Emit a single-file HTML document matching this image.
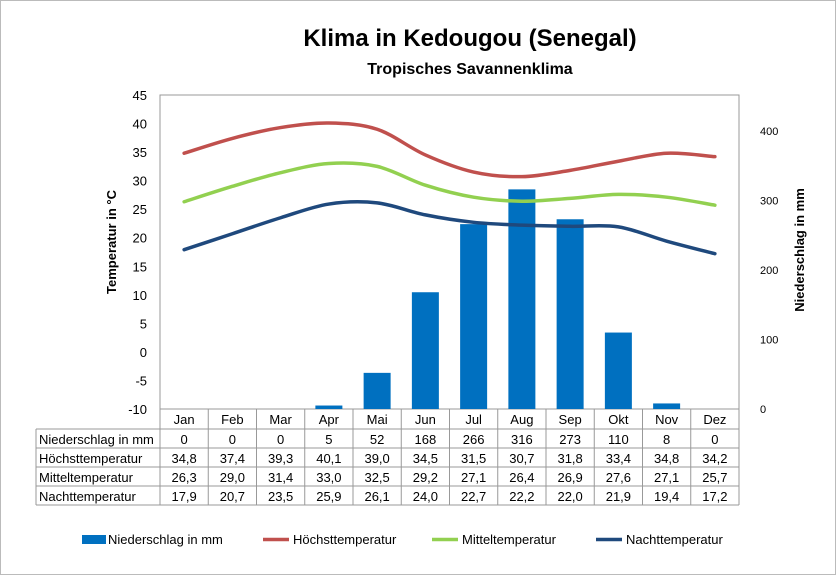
<!DOCTYPE html>
<html><head><meta charset="utf-8"><style>
body{margin:0;background:#fff;font-family:"Liberation Sans",Arial,sans-serif}
svg text{font-family:"Liberation Sans",Arial,sans-serif}
</style></head><body>
<svg id="c" width="836" height="575" viewBox="0 0 836 575">
<rect x="0.5" y="0.5" width="835" height="574" fill="#fff" stroke="#bbb"/>
<text x="470" y="46" text-anchor="middle" font-size="24" font-weight="bold">Klima in Kedougou (Senegal)</text>
<text x="470" y="74" text-anchor="middle" font-size="16" font-weight="bold">Tropisches Savannenklima</text>
<text transform="translate(116,242) rotate(-90)" text-anchor="middle" font-size="13" font-weight="bold">Temperatur in °C</text>
<text transform="translate(804,250) rotate(-90)" text-anchor="middle" font-size="13" font-weight="bold">Niederschlag in mm</text>
<g id="g"></g>
</svg>
<script>
const months=["Jan","Feb","Mar","Apr","Mai","Jun","Jul","Aug","Sep","Okt","Nov","Dez"];
const rain=[0,0,0,5,52,168,266,316,273,110,8,0];
const tmax=[34.8,37.4,39.3,40.1,39.0,34.5,31.5,30.7,31.8,33.4,34.8,34.2];
const tmean=[26.3,29.0,31.4,33.0,32.5,29.2,27.1,26.4,26.9,27.6,27.1,25.7];
const tmin=[17.9,20.7,23.5,25.9,26.1,24.0,22.7,22.2,22.0,21.9,19.4,17.2];
const leftTicks=[45,40,35,30,25,20,15,10,5,0,-5,-10];
const rightTicks=[0,100,200,300,400];
const rowLabels=["Niederschlag in mm","Höchsttemperatur","Mitteltemperatur","Nachttemperatur"];
const NS="http://www.w3.org/2000/svg";
const g=document.getElementById('g');
const L=160,R=739,T=95,B=409,cw=(R-L)/12;
const yT=v=>B-(v+10)*(B-T)/55;
const yR=v=>B-v*(409-131)/400;
const xC=i=>L+cw*(i+0.5);
function el(t,a,txt){const e=document.createElementNS(NS,t);for(const k in a)e.setAttribute(k,a[k]);if(txt!==undefined)e.textContent=txt;g.appendChild(e);return e;}
let e=el('rect',{x:L,y:T,width:R-L,height:B-T,fill:'none',stroke:'#999'});


leftTicks.forEach(v=>{let t=el('text',{x:147,y:yT(v)+5,'text-anchor':'end','font-size':13},v);

});
rightTicks.forEach(v=>{let t=el('text',{x:760,y:yR(v)+4,'text-anchor':'start','font-size':11},v);

});
rain.forEach((v,i)=>{let r=el('rect',{x:xC(i)-13.5,y:yR(v),width:27,height:B-yR(v),fill:'#0070c0'});

});
function smooth(vals,color,name){const p=vals.map((v,i)=>[xC(i),yT(v)]);let d='M'+p[0][0]+','+p[0][1];
for(let i=0;i<p.length-1;i++){const p0=p[i-1]||p[i],p1=p[i],p2=p[i+1],p3=p[i+2]||p2;const k=1/6;
d+=' C'+(p1[0]+(p2[0]-p0[0])*k)+','+(p1[1]+(p2[1]-p0[1])*k)+' '+(p2[0]-(p3[0]-p1[0])*k)+','+(p2[1]-(p3[1]-p1[1])*k)+' '+p2[0]+','+p2[1];}
let l=el('path',{d:d,fill:'none',stroke:color,'stroke-width':3.5,'stroke-linecap':'round'});

}
smooth(tmax,'#c0504d','line-hoechsttemperatur');
smooth(tmean,'#92d050','line-mitteltemperatur');
smooth(tmin,'#1f497d','line-nachttemperatur');
// table
const rows=[rain,tmax,tmean,tmin];const rT=429,rh=19,TL=36;
el('line',{x1:L,y1:B,x2:L,y2:rT+rh*4,stroke:'#999'});
for(let i=1;i<=12;i++)el('line',{x1:L+cw*i,y1:B,x2:L+cw*i,y2:rT+rh*4,stroke:'#999'});
el('line',{x1:TL,y1:rT,x2:TL,y2:rT+rh*4,stroke:'#999'});
for(let r=0;r<=4;r++)el('line',{x1:TL,y1:rT+rh*r,x2:R,y2:rT+rh*r,stroke:'#999'});
months.forEach((m,i)=>{let t=el('text',{x:xC(i),y:B+15,'text-anchor':'middle','font-size':13},m);

});
rows.forEach((arr,r)=>{let t=el('text',{x:TL+3,y:rT+rh*r+15,'font-size':13},rowLabels[r]);


arr.forEach((v,i)=>{let c=el('text',{x:xC(i),y:rT+rh*r+15,'text-anchor':'middle','font-size':13},r==0?String(v):v.toFixed(1).replace('.',','));

});});
// legend
const leg=[['Niederschlag in mm','#0070c0',82,1],['Höchsttemperatur','#c0504d',263,0],['Mitteltemperatur','#92d050',432,0],['Nachttemperatur','#1f497d',596,0]];
leg.forEach(([n,c,x,b])=>{let s=b?el('rect',{x:x,y:535,width:24,height:9,fill:c}):el('line',{x1:x,y1:539.5,x2:x+26,y2:539.5,stroke:c,'stroke-width':3.5});


let t=el('text',{x:x+(b?26:30),y:544,'font-size':13},n);

});
</script>
</body></html>
